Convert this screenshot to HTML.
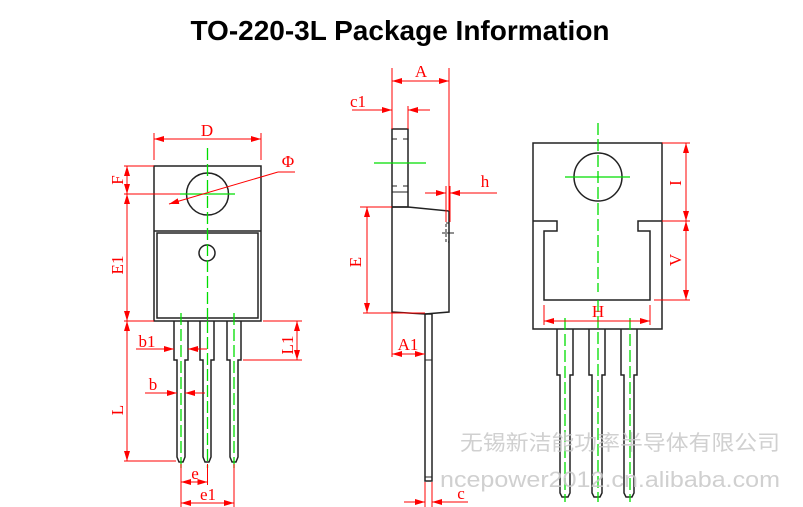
<!DOCTYPE html>
<html><head><meta charset="utf-8"><style>
html,body{margin:0;padding:0;background:#fff;}
svg{display:block}
.k{stroke:#222;stroke-width:1.5;fill:none}
.r{stroke:#f00;stroke-width:1;fill:none}
.g{stroke:#0d0;stroke-width:1.3;fill:none}
.gd{stroke:#0d0;stroke-width:1.3;fill:none;stroke-dasharray:12 4}
.t{fill:#f00;font-family:"Liberation Serif",serif;font-size:17px}
</style></head><body>
<svg width="803" height="507" viewBox="0 0 803 507" xmlns="http://www.w3.org/2000/svg">
<defs>
<marker id="a" markerWidth="10" markerHeight="6" refX="10" refY="3" orient="auto-start-reverse" markerUnits="userSpaceOnUse"><path d="M0,0 L10,3 L0,6 Z" fill="#f00"/></marker>
</defs>
<text x="400" y="40" text-anchor="middle" font-family="Liberation Sans,sans-serif" font-weight="bold" font-size="28">TO-220-3L Package Information</text>

<!-- LEFT VIEW -->
<g class="k">
<rect x="154" y="166" width="107" height="155"/>
<line x1="154" y1="231" x2="261" y2="231"/>
<rect x="157" y="233" width="101" height="85"/>
<circle cx="207.5" cy="194" r="21"/>
<circle cx="207" cy="253" r="8"/>
<path d="M174,321 V360 H177 V457 L179,462 H183 L185,457 V360 H188 V321"/>
<path d="M200,321 V360 H203 V457 L205,462 H209 L211,457 V360 H214 V321"/>
<path d="M227,321 V360 H230 V457 L232,462 H236 L238,457 V360 H241 V321"/>
</g>
<g class="gd">
<line x1="207.5" y1="148" x2="207.5" y2="320"/>
<line x1="181" y1="313" x2="181" y2="468"/>
<line x1="207.5" y1="321" x2="207.5" y2="468"/>
<line x1="234" y1="313" x2="234" y2="468"/>
</g>
<line class="g" x1="180" y1="194" x2="235" y2="194"/>
<g class="r">
<line x1="154" y1="133" x2="154" y2="160"/><line x1="261" y1="133" x2="261" y2="160"/>
<line x1="154" y1="139" x2="261" y2="139" marker-start="url(#a)" marker-end="url(#a)"/>
<line x1="124" y1="166" x2="154" y2="166"/><line x1="124" y1="194" x2="180" y2="194"/>
<line x1="124" y1="321" x2="154" y2="321"/><line x1="124" y1="461" x2="176" y2="461"/>
<line x1="127" y1="166" x2="127" y2="194" marker-start="url(#a)" marker-end="url(#a)"/>
<line x1="127" y1="194" x2="127" y2="321" marker-start="url(#a)" marker-end="url(#a)"/>
<line x1="127" y1="321" x2="127" y2="461" marker-start="url(#a)" marker-end="url(#a)"/>
<line x1="263" y1="321" x2="302" y2="321"/><line x1="243" y1="360" x2="302" y2="360"/>
<line x1="297" y1="321" x2="297" y2="360" marker-start="url(#a)" marker-end="url(#a)"/>
<line x1="136" y1="349" x2="174" y2="349" marker-end="url(#a)"/><line x1="207" y1="349" x2="188" y2="349" marker-end="url(#a)"/>
<line x1="145" y1="393" x2="177" y2="393" marker-end="url(#a)"/><line x1="205" y1="393" x2="185" y2="393" marker-end="url(#a)"/>
<line x1="181" y1="464" x2="181" y2="507"/><line x1="207.5" y1="464" x2="207.5" y2="485"/><line x1="234" y1="464" x2="234" y2="507"/>
<line x1="181" y1="482" x2="207.5" y2="482" marker-start="url(#a)" marker-end="url(#a)"/>
<line x1="181" y1="503" x2="234" y2="503" marker-start="url(#a)" marker-end="url(#a)"/>
<line x1="169" y1="204" x2="278" y2="172" marker-start="url(#a)"/><line x1="278" y1="172" x2="295" y2="172"/>
</g>
<text class="t" x="207" y="136" text-anchor="middle">D</text>
<text class="t" x="288" y="167" text-anchor="middle" font-size="19">Φ</text>
<text class="t" transform="translate(123,180) rotate(-90)" text-anchor="middle">F</text>
<text class="t" transform="translate(123,265) rotate(-90)" text-anchor="middle">E1</text>
<text class="t" transform="translate(123,410) rotate(-90)" text-anchor="middle">L</text>
<text class="t" transform="translate(293,345) rotate(-90)" text-anchor="middle">L1</text>
<text class="t" x="147" y="347" text-anchor="middle">b1</text>
<text class="t" x="153" y="390" text-anchor="middle">b</text>
<text class="t" x="195" y="479" text-anchor="middle">e</text>
<text class="t" x="208" y="500" text-anchor="middle">e1</text>

<!-- MIDDLE VIEW -->
<g class="k">
<rect x="392" y="129" width="16" height="78"/>
<path d="M392,139 h5 M403,139 h5 M392,186 h5 M403,186 h5" stroke-width="1"/>
<line x1="392" y1="192" x2="408" y2="192" stroke-width="1"/>
<path d="M392,207 H408 L449,211 V312 L425,314 L392,312 Z"/>
<rect x="425" y="314" width="7" height="167"/>
<line x1="425" y1="360" x2="432" y2="360" stroke-width="1"/>
<line x1="425" y1="477" x2="432" y2="477" stroke-width="1"/>
<rect x="446" y="223" width="3" height="19" stroke-width="1" stroke-dasharray="3 2"/>
<line x1="442" y1="233" x2="454" y2="233" stroke-width="1"/>
</g>
<line class="g" x1="374" y1="163" x2="426" y2="163" stroke-width="1.8"/>
<g class="r">
<line x1="392" y1="68" x2="392" y2="129"/><line x1="449" y1="68" x2="449" y2="211"/>
<line x1="392" y1="81" x2="449" y2="81" marker-start="url(#a)" marker-end="url(#a)"/>
<line x1="408" y1="106" x2="408" y2="129"/>
<line x1="352" y1="110" x2="392" y2="110" marker-end="url(#a)"/><line x1="430" y1="110" x2="408" y2="110" marker-end="url(#a)"/>
<line x1="446" y1="186" x2="446" y2="222"/><line x1="450" y1="186" x2="450" y2="222"/>
<line x1="425" y1="193" x2="446" y2="193" marker-end="url(#a)"/><line x1="497" y1="193" x2="450" y2="193" marker-end="url(#a)"/>
<line x1="360" y1="207" x2="392" y2="207"/><line x1="363" y1="313" x2="425" y2="313"/>
<line x1="367" y1="207" x2="367" y2="313" marker-start="url(#a)" marker-end="url(#a)"/>
<line x1="392" y1="313" x2="392" y2="357"/>
<line x1="392" y1="354" x2="425" y2="354" marker-start="url(#a)" marker-end="url(#a)"/>
<line x1="425" y1="482" x2="425" y2="507"/><line x1="432" y1="482" x2="432" y2="507"/>
<line x1="404" y1="502" x2="425" y2="502" marker-end="url(#a)"/><line x1="468" y1="502" x2="432" y2="502" marker-end="url(#a)"/>
</g>
<text class="t" x="421" y="77" text-anchor="middle">A</text>
<text class="t" x="358" y="107" text-anchor="middle">c1</text>
<text class="t" x="485" y="187" text-anchor="middle">h</text>
<text class="t" transform="translate(361,262) rotate(-90)" text-anchor="middle">E</text>
<text class="t" x="408" y="350" text-anchor="middle">A1</text>
<text class="t" x="461" y="499" text-anchor="middle">c</text>

<!-- RIGHT VIEW -->
<g class="k">
<path d="M533,143 H662 V329 H533 Z"/>
<path d="M533,221 H557 V231 H544 V300 H650 V231 H638 V221 H662"/>
<circle cx="598" cy="177" r="24"/>
<path d="M557,329 V375 H560 V493 L562,497 H568 L570,493 V375 H573 V329"/>
<path d="M589,329 V375 H592 V493 L594,497 H600 L602,493 V375 H605 V329"/>
<path d="M621,329 V375 H624 V493 L626,497 H632 L634,493 V375 H637 V329"/>
</g>
<g class="gd">
<line x1="598" y1="123" x2="598" y2="292"/>
<line x1="565" y1="318" x2="565" y2="502"/>
<line x1="598" y1="300" x2="598" y2="502"/>
<line x1="630" y1="318" x2="630" y2="502"/>
</g>
<line class="g" x1="565" y1="177" x2="630" y2="177"/>
<g class="r">
<line x1="662" y1="143" x2="690" y2="143"/><line x1="662" y1="221" x2="690" y2="221"/><line x1="654" y1="300" x2="690" y2="300"/>
<line x1="686" y1="143" x2="686" y2="221" marker-start="url(#a)" marker-end="url(#a)"/>
<line x1="686" y1="221" x2="686" y2="300" marker-start="url(#a)" marker-end="url(#a)"/>
<line x1="544" y1="305" x2="544" y2="325"/><line x1="650" y1="305" x2="650" y2="325"/>
<line x1="544" y1="321" x2="650" y2="321" marker-start="url(#a)" marker-end="url(#a)"/>
</g>
<text class="t" transform="translate(681,183) rotate(-90)" text-anchor="middle">I</text>
<text class="t" transform="translate(681,260) rotate(-90)" text-anchor="middle">V</text>
<text class="t" x="598" y="317" text-anchor="middle" font-size="18">H</text>

<!-- watermark -->
<text x="460" y="450" fill="#c8c8c8" fill-opacity="0.85" font-family="Liberation Sans,'Noto Sans CJK SC',sans-serif" font-size="21" textLength="320" lengthAdjust="spacingAndGlyphs">无锡新洁能功率半导体有限公司</text>
<text x="440" y="487" fill="#c8c8c8" fill-opacity="0.85" font-family="Liberation Sans,sans-serif" font-size="22" textLength="340" lengthAdjust="spacingAndGlyphs">ncepower2012.cn.alibaba.com</text>
</svg>
</body></html>
